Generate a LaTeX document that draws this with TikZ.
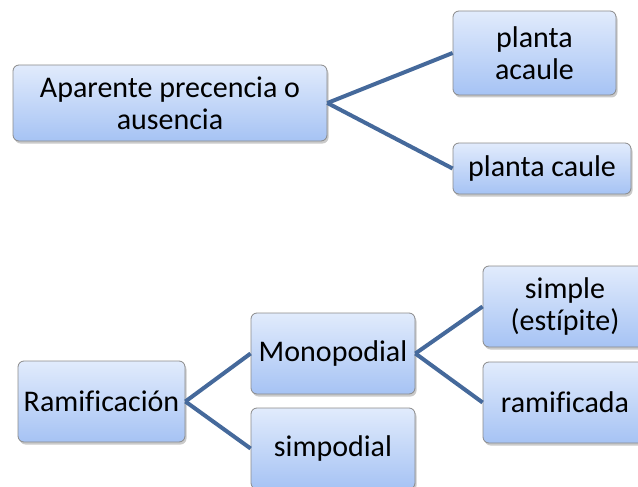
\documentclass[tikz,border=0pt]{standalone}
\usepackage{fontspec}
\setmainfont{Carlito}[Ligatures=NoCommon]
\usetikzlibrary{shadows}
\definecolor{boxtop}{HTML}{E1EBFC}
\definecolor{boxbot}{HTML}{A6C3F4}
\definecolor{boxline}{HTML}{8A8A8A}
\definecolor{linkcol}{HTML}{45699B}
\tikzset{
  box/.style={draw=boxline, line width=0.8pt, rounded corners=6pt,
    top color=boxtop, bottom color=boxbot, inner sep=0pt, align=center,
    font=\fontsize{30}{32}\selectfont,
    drop shadow={shadow xshift=1.5pt, shadow yshift=-2.5pt, opacity=0.35, fill=black!60}},
  link/.style={draw=linkcol, line width=4pt}
}
\begin{document}
\begin{tikzpicture}[x=1pt,y=-1pt]
\useasboundingbox (0,0) rectangle (638,487);
\clip (0,0) rectangle (638,487);
\node[box, minimum width=314pt, minimum height=76pt] (apa) at (170,103) {Aparente precencia o\\ausencia};
\node[box, minimum width=163pt, minimum height=84pt] (aca) at (534.5,53) {planta\\acaule};
\node[box, minimum width=178pt, minimum height=51pt] (cau) at (542,168.5) {planta caule};
\node[box, minimum width=167pt, minimum height=81pt] (ram) at (101.5,401.5) {Ramificación};
\node[box, minimum width=164pt, minimum height=81pt] (mon) at (333,353.5) {Monopodial};
\node[box, minimum width=164pt, minimum height=81pt] (sim) at (333,448.5) {simpodial};
\node[box, minimum width=164pt, minimum height=81pt] (spl) at (565,306.5) {simple\\(estípite)};
\node[box, minimum width=164pt, minimum height=81pt] (rfc) at (565,402.5) {ramificada};
\draw[link] (apa.east) -- (aca.west);
\draw[link] (apa.east) -- (cau.west);
\draw[link] (ram.east) -- (mon.west);
\draw[link] (ram.east) -- (sim.west);
\draw[link] (mon.east) -- (spl.west);
\draw[link] (mon.east) -- (rfc.west);
\end{tikzpicture}
\end{document}
